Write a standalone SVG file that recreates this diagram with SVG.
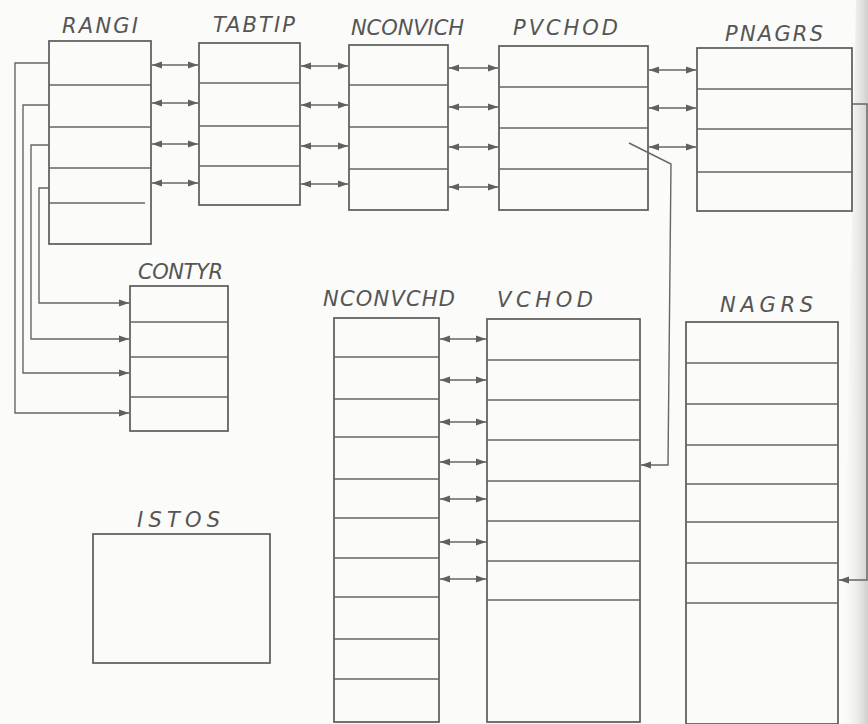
<svg xmlns="http://www.w3.org/2000/svg" width="868" height="724" viewBox="0 0 868 724">
<defs>
<marker id="ah" markerWidth="12" markerHeight="9" refX="10" refY="4.5" orient="auto-start-reverse" markerUnits="userSpaceOnUse">
<path d="M0,1 L10,4.5 L0,8 Z" fill="#606060"/>
</marker>
<linearGradient id="shade" x1="0" y1="0" x2="1" y2="0">
<stop offset="0" stop-color="#f6f6f4" stop-opacity="0"/>
<stop offset="1" stop-color="#cfcfcc"/>
</linearGradient>
<style>
.box{fill:none;stroke:#5a5a5a;stroke-width:1.7}
.div{stroke:#666;stroke-width:1.3;fill:none}
.lbl{font-family:"DejaVu Sans","Liberation Sans",sans-serif;font-style:italic;font-size:21px;fill:#555;letter-spacing:2px}
.ar{stroke:#666;stroke-width:1.3;fill:none;marker-start:url(#ah);marker-end:url(#ah)}
.one{stroke:#666;stroke-width:1.4;fill:none;marker-end:url(#ah)}
</style>
</defs>
<rect x="0" y="0" width="868" height="724" fill="#fbfbf9"/>
<path d="M856,0 L868,0 L868,724 L842,724 Z" fill="url(#shade)"/>

<g id="RANGI">
<rect class="box" x="49" y="41" width="102" height="203"/>
<path class="div" d="M49,85H151M49,127H151M49,168H151M49,203H145"/>
<text class="lbl" x="62" y="33" textLength="78">RANGI</text>
</g>
<g id="TABTIP">
<rect class="box" x="199" y="43" width="101" height="162"/>
<path class="div" d="M199,83H300M199,126H300M199,166H300"/>
<text class="lbl" x="213" y="32" textLength="84">TABTIP</text>
</g>
<g id="NCONVICH">
<rect class="box" x="349" y="45" width="99" height="165"/>
<path class="div" d="M349,85H448M349,127H448M349,169H448"/>
<text class="lbl" x="351" y="35" textLength="115">NCONVICH</text>
</g>
<g id="PVCHOD">
<rect class="box" x="499" y="46" width="149" height="164"/>
<path class="div" d="M499,87H648M499,128H648M499,169H648"/>
<text class="lbl" x="513" y="35" textLength="107">PVCHOD</text>
</g>
<g id="PNAGRS">
<rect class="box" x="697" y="48" width="155" height="163"/>
<path class="div" d="M697,89H852M697,129H852M697,172H852"/>
<text class="lbl" x="725" y="41" textLength="100">PNAGRS</text>
</g>
<g id="CONTYR">
<rect class="box" x="130" y="286" width="98" height="145"/>
<path class="div" d="M130,322H228M130,357H228M130,397H228"/>
<text class="lbl" x="138" y="279" textLength="87">CONTYR</text>
</g>
<g id="NCONVCHD">
<rect class="box" x="334" y="318" width="105" height="404"/>
<path class="div" d="M334,357H439M334,399H439M334,437H439M334,479H439M334,518H439M334,558H439M334,597H439M334,639H439M334,679H439"/>
<text class="lbl" x="323" y="306" textLength="134">NCONVCHD</text>
</g>
<g id="VCHOD">
<rect class="box" x="487" y="319" width="153" height="403"/>
<path class="div" d="M487,360H640M487,400H640M487,440H640M487,481H640M487,521H640M487,561H640M487,600H640"/>
<text class="lbl" x="497" y="307" textLength="98">VCHOD</text>
</g>
<g id="NAGRS">
<rect class="box" x="686" y="322" width="152" height="402"/>
<path class="div" d="M686,363H838M686,404H838M686,445H838M686,484H838M686,522H838M686,563H838M686,603H838"/>
<text class="lbl" x="720" y="312" textLength="95">NAGRS</text>
</g>
<g id="ISTOS">
<rect class="box" x="93" y="534" width="177" height="129"/>
<text class="lbl" x="137" y="527" textLength="85">ISTOS</text>
</g>

<g id="connectors">
<path class="ar" d="M152,65H198"/>
<path class="ar" d="M152,103H198"/>
<path class="ar" d="M152,144H198"/>
<path class="ar" d="M152,183H198"/>
<path class="ar" d="M301,66H348"/>
<path class="ar" d="M301,105H348"/>
<path class="ar" d="M301,146H348"/>
<path class="ar" d="M301,184H348"/>
<path class="ar" d="M449,68H498"/>
<path class="ar" d="M449,107H498"/>
<path class="ar" d="M449,147H498"/>
<path class="ar" d="M449,187H498"/>
<path class="ar" d="M649,70H696"/>
<path class="ar" d="M649,108H696"/>
<path class="ar" d="M649,147H696"/>
<path class="ar" d="M440,339H486"/>
<path class="ar" d="M440,380H486"/>
<path class="ar" d="M440,422H486"/>
<path class="ar" d="M440,462H486"/>
<path class="ar" d="M440,499H486"/>
<path class="ar" d="M440,542H486"/>
<path class="ar" d="M440,579H486"/>
<path class="one" d="M49,63H15V413H129"/>
<path class="one" d="M49,105H23V373H129"/>
<path class="one" d="M49,145H31V339H129"/>
<path class="one" d="M49,188H39V303H129"/>
<path class="one" d="M629,143L671,164L668,465H641"/>
<path class="one" d="M852,104H867V580H839"/>
</g>
</svg>
